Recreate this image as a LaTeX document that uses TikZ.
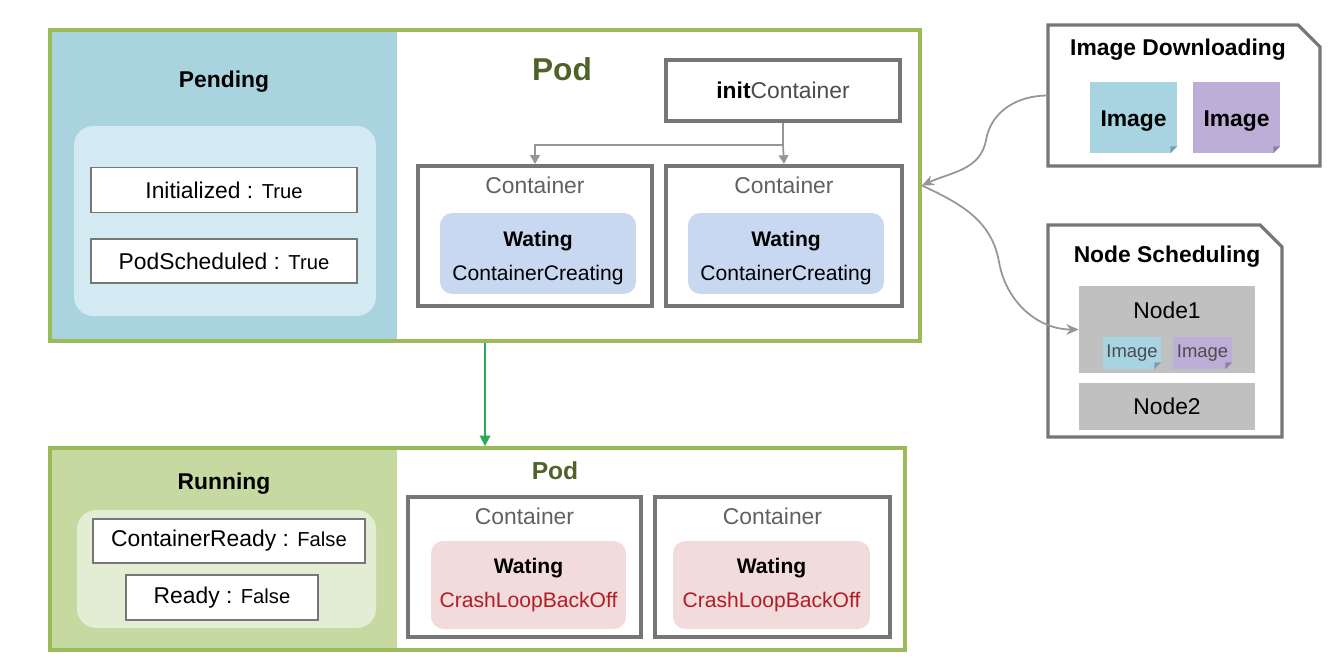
\documentclass[tikz,border=0pt]{standalone}
\usepackage{fontspec}
\setmainfont{Liberation Sans}
\usetikzlibrary{fit,arrows.meta}
\definecolor{podframe}{RGB}{155,187,89}
\definecolor{podtext}{RGB}{79,98,40}
\definecolor{pendfill}{RGB}{168,211,223}
\definecolor{pendlight}{RGB}{211,234,242}
\definecolor{runfill}{RGB}{198,217,160}
\definecolor{runlight}{RGB}{227,237,212}
\definecolor{boxline}{RGB}{118,118,118}
\definecolor{waitblue}{RGB}{199,216,240}
\definecolor{waitpink}{RGB}{242,219,219}
\definecolor{crashred}{RGB}{178,28,40}
\definecolor{imgcyan}{RGB}{168,212,225}
\definecolor{imgpurple}{RGB}{188,174,214}
\definecolor{nodegray}{RGB}{192,192,192}
\definecolor{arrowgray}{RGB}{150,150,150}
\definecolor{arrowgreen}{RGB}{40,168,90}
\newcommand\foldcorner[3]{%
  \fill[#2] (#1.south east) -- ++(-7,0) -- ++(7,-7) -- cycle;
  \fill[#3] (#1.south east) ++(-7,0) -- ++(7,-7) -- ++(-7,0) -- cycle;}
\newcommand\tf[1]{{\fontsize{11.5}{13}\selectfont #1}}

\begin{document}
\begin{tikzpicture}[x=0.02cm,y=-0.02cm,font=\fontsize{13}{15}\selectfont,
    podbox/.style={draw=podframe,line width=2.2pt,inner sep=0},
    cond/.style={draw=boxline,line width=1pt,fill=white,inner sep=0},
    cont/.style={draw=boxline,line width=2.3pt,fill=white,inner sep=0,minimum height=2.8cm},
    wait/.style={rounded corners=7pt,inner sep=0,align=center,font=\fontsize{12}{19}\selectfont},
    title/.style={font=\fontsize{13}{15}\selectfont\bfseries},
    ctext/.style={text=black!62},
    panel/.style={draw=boxline,line width=1.8pt,fill=white},
    tile/.style={inner sep=0,text height=12.5pt,font=\fontsize{13}{15}\selectfont\bfseries},
    stile/.style={inner sep=0,font=\fontsize{10.5}{12}\selectfont,text=black!70},
    grayarrow/.style={draw=arrowgray,line width=1pt,-{Triangle[length=5pt,width=5.5pt]}},
    curvearrow/.style={draw=arrowgray,line width=1pt,-{Stealth[length=7pt,width=6pt]}}]
    \useasboundingbox (0,0) rectangle (1344,666);

    % pending pod
    \fill[pendfill] (50,30) rectangle (397,341);
    \fill[pendlight,rounded corners=11pt] (74,126) rectangle (376,316);
    \node[podbox,fit={(50,30) (920,341)}] (pod1) {};
    \node[title] (pend) at (224,82) {Pending};
    \node[cond,minimum width=5.32cm,minimum height=0.9cm] (ini) at (224,190) {Initialized : \tf{True}};
    \node[cond,minimum width=5.32cm,minimum height=0.88cm] (sched) at (224,261) {PodScheduled : \tf{True}};
    \node[text=podtext,font=\fontsize{18}{20}\selectfont\bfseries] (podt1) at (562,69) {Pod};

    \node[cont,minimum width=4.68cm,minimum height=1.22cm] (initc) at (783,90.5) {\textbf{init}\textcolor{black!70}{Container}};
    \node[cont,minimum width=4.68cm] (c1) at (535,236) {};
    \node[cont,minimum width=4.72cm] (c2) at (784,236) {};
    \node[ctext] (c1t) at (535,185) {Container};
    \node[ctext] (c2t) at (784,185) {Container};
    \node[wait,fill=waitblue,minimum width=3.92cm,minimum height=1.62cm] (w1) at (538,253.5) {\rule{0pt}{14pt}\textbf{Wating}\\ContainerCreating};
    \node[wait,fill=waitblue,minimum width=3.92cm,minimum height=1.62cm] (w2) at (786,253.5) {\rule{0pt}{14pt}\textbf{Wating}\\ContainerCreating};

    \coordinate (split) at (783,145);
    \draw[draw=arrowgray,line width=1pt] (initc.south) -- (split);
    \draw[grayarrow] (split) -| (c1.north);
    \draw[grayarrow] (split) -- (c2.north);

    % image downloading
    \draw[panel] (1048,25) -- (1298,25) -- (1320,47) -- (1320,166) -- (1048,166) -- cycle;
    \node[inner sep=0,fit={(1048,25) (1320,166)}] (imgdl) {};
    \node[title] (imgdlt) at (1178,50) {Image Downloading};
    \node[tile,fill=imgcyan,minimum width=1.74cm,minimum height=1.42cm] (img1) at (1133.5,117.5) {Image};
    \node[tile,fill=imgpurple,minimum width=1.74cm,minimum height=1.42cm] (img2) at (1236.5,117.5) {Image};
    \foldcorner{img1}{white}{imgcyan!75!black}
    \foldcorner{img2}{white}{imgpurple!75!black}

    % node scheduling
    \draw[panel] (1048,225) -- (1260,225) -- (1282,247) -- (1282,437) -- (1048,437) -- cycle;
    \node[inner sep=0,fit={(1048,225) (1282,437)}] (nsched) {};
    \node[title] (nschedt) at (1167,257) {Node Scheduling};
    \node[fill=nodegray,inner sep=0,minimum width=3.52cm,minimum height=1.74cm] (node1) at (1167,329.5) {};
    \node (node1t) at (1167,310) {Node1};
    \node[stile,fill=imgcyan,minimum width=1.16cm,minimum height=0.64cm] (simg1) at (1132,353) {Image};
    \node[stile,fill=imgpurple,minimum width=1.18cm,minimum height=0.64cm] (simg2) at (1202.5,353) {Image};
    \foldcorner{simg1}{nodegray}{imgcyan!75!black}
    \foldcorner{simg2}{nodegray}{imgpurple!75!black}
    \node[fill=nodegray,inner sep=0,minimum width=3.52cm,minimum height=0.94cm] (node2) at (1167,406.5) {Node2};

    \draw[curvearrow] (imgdl.west) to[out=180,in=80] (986,140) to[out=-100,in=25] (pod1.east);
    \draw[curvearrow] (pod1.east) to[out=-25,in=100] (999,262) to[out=-80,in=180] (node1.west);

    % running pod
    \fill[runfill] (50,448) rectangle (397,650);
    \fill[runlight,rounded corners=11pt] (77,510) rectangle (376,628);
    \node[podbox,fit={(50,448) (905,650)}] (pod2) {};
    \draw[draw=arrowgreen,line width=1pt,-{Triangle[length=6pt,width=6pt]}] (pod1.south) -- (pod1.south |- pod2.north);
    \node[title] (run) at (224,484) {Running};
    \node[cond,minimum width=5.44cm,minimum height=0.88cm] (cready) at (229,541) {ContainerReady : \tf{False}};
    \node[cond,minimum width=3.84cm,minimum height=0.9cm] (ready) at (222,597.5) {Ready : \tf{False}};
    \node[text=podtext,font=\fontsize{14}{16}\selectfont\bfseries] (podt2) at (555,471) {Pod};

    \node[cont,minimum width=4.66cm] (c3) at (524.5,567) {};
    \node[cont,minimum width=4.7cm] (c4) at (772.5,567) {};
    \node[ctext] (c3t) at (524.5,516) {Container};
    \node[ctext] (c4t) at (772.5,516) {Container};
    \node[wait,fill=waitpink,minimum width=3.9cm,minimum height=1.76cm] (w3) at (528.5,585) {\textbf{Wating}\\\textcolor{crashred}{CrashLoopBackOff}};
    \node[wait,fill=waitpink,minimum width=3.94cm,minimum height=1.76cm] (w4) at (771.5,585) {\textbf{Wating}\\\textcolor{crashred}{CrashLoopBackOff}};
\end{tikzpicture}
\end{document}
